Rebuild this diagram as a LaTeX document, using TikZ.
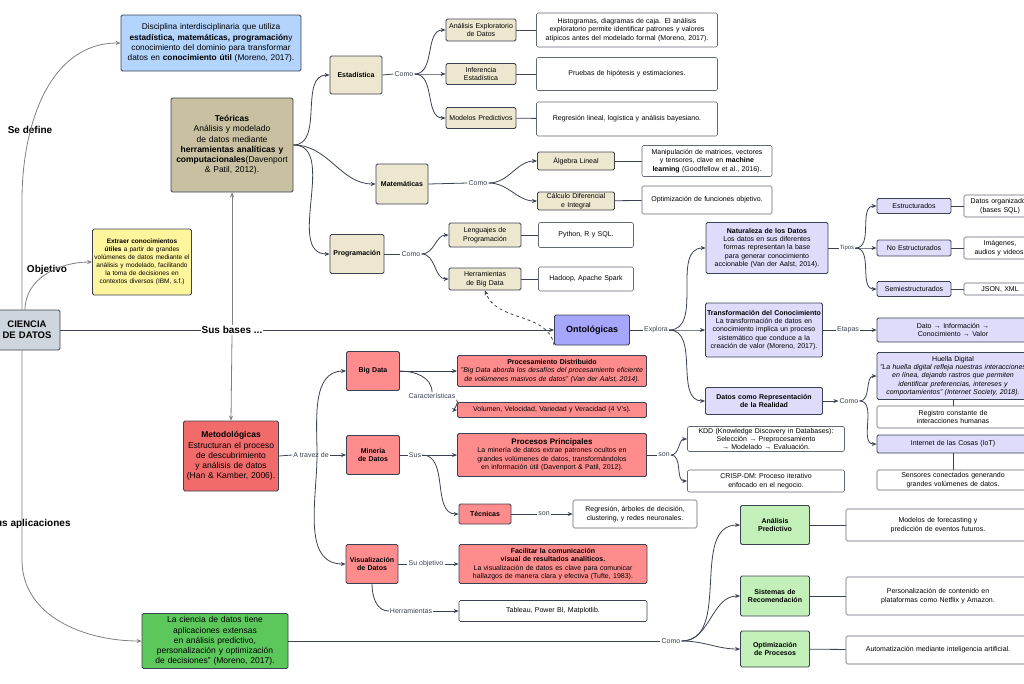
\documentclass[tikz,border=0pt]{standalone}
\usepackage{fontspec}
\setmainfont{Liberation Sans}
\usetikzlibrary{arrows.meta}
\hyphenpenalty=10000 \exhyphenpenalty=10000
\definecolor{cgray}{HTML}{CFD5DC}
\definecolor{cblue}{HTML}{B3D4FC}
\definecolor{cyel}{HTML}{FFF59D}
\definecolor{ctan}{HTML}{C9C0A1}
\definecolor{cred}{HTML}{F26B6B}
\definecolor{cpink}{HTML}{FF8C8C}
\definecolor{cbeige}{HTML}{EDE7D0}
\definecolor{cviol}{HTML}{A6A6FC}
\definecolor{clav}{HTML}{DEDCFA}
\definecolor{cgreen}{HTML}{5CC85C}
\definecolor{clgreen}{HTML}{C2F0B8}
\definecolor{cline}{HTML}{3B4252}
\tikzset{
 bx/.style={draw=cline,line width=0.8pt,rounded corners=1.5pt,align=center,inner sep=1pt,font=\fontsize{7}{8.4}\selectfont},
 wb/.style={bx,fill=white,draw=cline!80,line width=0.6pt},
 lb/.style={fill=white,inner sep=1pt,font=\fontsize{7}{8}\selectfont,text=cline},
 big/.style={fill=white,inner sep=1pt,font=\fontsize{10}{11}\selectfont\bfseries,text=black},
 ar/.style={-{Stealth[length=5pt,width=4pt]},draw=cline,line width=0.8pt},
 ln/.style={draw=cline,line width=0.8pt},
 gl/.style={-{Stealth[length=5pt,width=4pt]},draw=gray,line width=0.8pt},
 sz/.style n args={3}{minimum width=#1pt,minimum height=#2pt,text width=#3pt},
}
\begin{document}
\begin{tikzpicture}[x=1pt,y=-1pt]
\useasboundingbox[fill=white] (0,0) rectangle (1024,683);
% main nodes
\node[bx,fill=cgray,sz={66}{40}{64},font=\fontsize{9.5}{11}\selectfont\bfseries] (cd) at (27,330) {CIENCIA DE DATOS};
\node[bx,fill=cblue,sz={180}{56}{178},font=\fontsize{8.3}{10.2}\selectfont] (def) at (211,43) {Disciplina interdisciplinaria que utiliza \textbf{estadística, matemáticas, programación}y conocimiento del dominio para transformar datos en \textbf{conocimiento útil} (Moreno, 2017).};
\node[bx,fill=cyel,sz={99}{66}{97},font=\fontsize{6.5}{8}\selectfont] (obj) at (142,262) {\textbf{Extraer conocimientos útiles} a partir de grandes volúmenes de datos mediante el análisis y modelado, facilitando la toma de decisiones en contextos diversos (IBM, s.f.)};
\node[bx,fill=ctan,sz={122}{94}{120},font=\fontsize{8.5}{10.2}\selectfont] (teo) at (232,145) {\textbf{Teóricas}\\Análisis y modelado de datos mediante \textbf{herramientas analíticas y computacionales}(Davenport \& Patil, 2012).};
\node[bx,fill=cred,sz={95}{70}{93},font=\fontsize{8.5}{10.2}\selectfont] (met) at (231,456) {\textbf{Metodológicas}\\Estructuran el proceso de descubrimiento y análisis de datos (Han \& Kamber, 2006).};
\node[bx,fill=cgreen,sz={146}{55}{144},font=\fontsize{8.5}{10.2}\selectfont] (apl) at (215,641) {La ciencia de datos tiene aplicaciones extensas en análisis predictivo, personalización y optimización de decisiones" (Moreno, 2017).};
% teoricas branch
\node[bx,fill=cbeige,sz={52}{38}{50}] (est) at (356,75) {\textbf{Estadística}};
\node[bx,fill=cbeige,sz={52}{40}{50}] (mat) at (402,184) {\textbf{Matemáticas}};
\node[bx,fill=cbeige,sz={54}{39}{52}] (prog) at (357,254) {\textbf{Programación}};
\node[bx,fill=cbeige,sz={70}{22}{68}] (aed) at (481,30) {Análisis Exploratorio de Datos};
\node[bx,fill=cbeige,sz={70}{21}{50}] (inf) at (481,74) {Inferencia Estadística};
\node[bx,fill=cbeige,sz={70}{21}{68}] (mp) at (481,118) {Modelos Predictivos};
\node[wb,sz={181}{34}{170}] (t1) at (627,30) {Histogramas, diagramas de caja. El análisis exploratorio permite identificar patrones y valores atípicos antes del modelado formal (Moreno, 2017).};
\node[wb,sz={181}{33}{175}] (t2) at (627,74) {Pruebas de hipótesis y estimaciones.};
\node[wb,sz={181}{34}{175}] (t3) at (627,119) {Regresión lineal, logística y análisis bayesiano.};
\node[bx,fill=cbeige,sz={77}{18}{75}] (al) at (576,161) {Álgebra Lineal};
\node[bx,fill=cbeige,sz={77}{18}{75}] (cdi) at (576,201) {Cálculo Diferencial e Integral};
\node[wb,sz={130}{31}{128}] (t4) at (707,161) {Manipulación de matrices, vectores y tensores, clave en \textbf{machine learning} (Goodfellow et al., 2016).};
\node[wb,sz={130}{28}{126}] (t5) at (707,200) {Optimización de funciones objetivo.};
\node[bx,fill=cbeige,sz={72}{24}{60}] (lp) at (485,235) {Lenguajes de Programación};
\node[bx,fill=cbeige,sz={72}{22}{70}] (hbd) at (485,279) {Herramientas de Big Data};
\node[wb,sz={95}{25}{91}] (t6) at (586,235) {Python, R y SQL.};
\node[wb,sz={95}{24}{91}] (t7) at (586,279) {Hadoop, Apache Spark};
% ontologicas
\node[bx,fill=cviol,sz={75}{30}{73},font=\fontsize{9}{10}\selectfont\bfseries] (ont) at (592,330) {Ontológicas};
\node[bx,fill=clav,sz={122}{51}{120}] (nat) at (767,248) {\textbf{Naturaleza de los Datos}\\Los datos en sus diferentes formas representan la base para generar conocimiento accionable (Van der Aalst, 2014).};
\node[bx,fill=clav,sz={117}{54}{115}] (tra) at (764,330) {\textbf{Transformación del Conocimiento}\\La transformación de datos en conocimiento implica un proceso sistemático que conduce a la creación de valor (Moreno, 2017).};
\node[bx,fill=clav,sz={117}{27}{115}] (drr) at (764,401) {\textbf{Datos como Representación de la Realidad}};
\node[bx,fill=clav,sz={74}{15}{72}] (estr) at (914,206) {Estructurados};
\node[bx,fill=clav,sz={74}{16}{72}] (noes) at (914,248) {No Estructurados};
\node[bx,fill=clav,sz={74}{15}{72}] (semi) at (914,289) {Semiestructurados};
\node[wb,sz={72}{22}{70}] (do) at (1000,206) {Datos organizados (bases SQL)};
\node[wb,sz={72}{22}{70}] (ia) at (1000,248) {Imágenes, audios y videos.};
\node[wb,sz={72}{12}{68}] (js) at (1000,289) {JSON, XML};
\node[bx,fill=clav,sz={152}{24}{140}] (dik) at (953,330) {Dato → Información → Conocimiento → Valor};
\node[bx,fill=clav,sz={152}{47}{150}] (hd) at (953,376) {Huella Digital\\\textit{"La huella digital refleja nuestras interacciones en línea, dejando rastros que permiten identificar preferencias, intereses y comportamientos" (Internet Society, 2018).}};
\node[wb,sz={152}{22}{140}] (reg) at (953,417) {Registro constante de interacciones humanas};
\node[bx,fill=clav,sz={152}{18}{146}] (iot) at (953,444) {Internet de las Cosas (IoT)};
\node[wb,sz={152}{20}{148}] (sens) at (953,480) {Sensores conectados generando grandes volúmenes de datos.};
% metodologicas
\node[bx,fill=cpink,sz={53}{39}{50}] (bd) at (373,371) {\textbf{Big Data}};
\node[bx,fill=cpink,sz={189}{31}{187}] (pd) at (552,371) {\textbf{Procesamiento Distribuido}\\\textit{"Big Data aborda los desafíos del procesamiento eficiente de volúmenes masivos de datos" (Van der Aalst, 2014).}};
\node[bx,fill=cpink,sz={189}{15}{185}] (vv) at (552,410) {Volumen, Velocidad, Variedad y Veracidad (4 V's).};
\node[bx,fill=cpink,sz={53}{39}{50}] (mdd) at (373,455) {\textbf{Minería de Datos}};
\node[bx,fill=cpink,sz={189}{43}{187}] (pp) at (552,455) {\textbf{\fontsize{8}{9}\selectfont Procesos Principales}\\La minería de datos extrae patrones ocultos en grandes volúmenes de datos, transformándolos en información útil (Davenport \& Patil, 2012).};
\node[bx,fill=cpink,sz={52}{20}{50}] (tec) at (485,514) {\textbf{Técnicas}};
\node[wb,sz={124}{28}{120}] (t8) at (635,514) {Regresión, árboles de decisión, clustering, y redes neuronales.};
\node[wb,sz={157}{25}{155}] (kdd) at (766,439) {KDD (Knowledge Discovery in Databases): Selección → Preprocesamiento → Modelado → Evaluación.};
\node[wb,sz={157}{22}{155}] (crisp) at (766,481) {CRISP-DM: Proceso iterativo enfocado en el negocio.};
\node[bx,fill=cpink,sz={52}{39}{50}] (vis) at (372,564) {\textbf{Visualización de Datos}};
\node[bx,fill=cpink,sz={188}{39}{186}] (fac) at (553,564) {\textbf{Facilitar la comunicación visual de resultados analíticos.}\\La visualización de datos es clave para comunicar hallazgos de manera clara y efectiva (Tufte, 1983).};
\node[wb,draw=cline,sz={188}{21}{184}] (tab) at (553,611) {Tableau, Power BI, Matplotlib.};
% aplicaciones
\node[bx,fill=clgreen,sz={69}{39}{60}] (ap) at (775,525) {\textbf{Análisis Predictivo}};
\node[bx,fill=clgreen,sz={69}{40}{66}] (sr) at (775,596) {\textbf{Sistemas de Recomendación}};
\node[bx,fill=clgreen,sz={69}{36}{66}] (op) at (775,649) {\textbf{Optimización de Procesos}};
\node[wb,sz={184}{32}{160}] (t9) at (938,525) {Modelos de forecasting y predicción de eventos futuros.};
\node[wb,sz={184}{38}{176}] (t10) at (938,596) {Personalización de contenido en plataformas como Netflix y Amazon.};
\node[wb,sz={184}{28}{176}] (t11) at (938,650) {Automatización mediante inteligencia artificial.};

% connectors from centre
\node[big] (sb) at (232,330) {Sus bases ...};
\draw[ln] (cd.east) -- (sb.west);
\draw[ar] (sb.east) -- (ont.west);
\draw[gl] (sb.north) -- (teo.south);
\draw[gl] (sb.south) -- (met.north);
\coordinate (c1) at (22,310);
\node[big,fill=none] (sd) at (30,130) {Se define};
\draw[gl] (c1) -- (22,200) to[out=90,in=180] (def.west);
\coordinate (c2) at (25,310);
\node[big] (ob) at (47,270) {Objetivo};
\draw[gl] (c2) to[out=90,in=180] (obj.west);
\coordinate (c3) at (22,350);
\node[big,fill=none] (sa) at (30,524) {Sus aplicaciones};
\draw[gl] (c3) -- (22,560) to[out=-90,in=180] (apl.west);
% aplicaciones
\node[lb] (como5) at (671,641) {Como};
\draw[ln] (apl.east) -- (como5.west);
\foreach \t in {ap,sr,op} \draw[ar] (como5.east) to[out=0,in=180] (\t.west);
\draw[ln] (ap) -- (t9); \draw[ln] (sr) -- (t10); \draw[ln] (op) -- (t11);
% teoricas
\foreach \t in {est,mat,prog} \draw[ar] (teo.east) to[out=0,in=180] (\t.west);
\node[lb] (como1) at (404,74) {Como};
\draw[ln] (est.east) -- (como1.west);
\foreach \t in {aed,inf,mp} \draw[ar] (como1.east) to[out=0,in=180] (\t.west);
\draw[ln] (aed) -- (t1); \draw[ln] (inf) -- (t2); \draw[ln] (mp) -- (t3);
\node[lb] (como2) at (478,183) {Como};
\draw[ln] (mat.east) -- (como2.west);
\foreach \t in {al,cdi} \draw[ar] (como2.east) to[out=0,in=180] (\t.west);
\draw[ln] (al) -- (t4); \draw[ln] (cdi) -- (t5);
\node[lb] (como3) at (411,254) {Como};
\draw[ln] (prog.east) -- (como3.west);
\foreach \t in {lp,hbd} \draw[ar] (como3.east) to[out=0,in=180] (\t.west);
\draw[ln] (lp) -- (t6); \draw[ln] (hbd) -- (t7);
% ontologicas
\node[lb] (expl) at (656,330) {Explora};
\draw[ln] (ont.east) -- (expl.west);
\foreach \t in {nat,tra,drr} \draw[ar] (expl.east) to[out=0,in=180] (\t.west);
\node[lb,font=\fontsize{6}{7}\selectfont] (tipos) at (847,248) {Tipos};
\draw[ln] (nat.east) -- (tipos.west);
\foreach \t in {estr,noes,semi} \draw[ar] (tipos.east) to[out=0,in=180] (\t.west);
\draw[ln] (estr) -- (do); \draw[ln] (noes) -- (ia); \draw[ln] (semi) -- (js);
\node[lb] (etapas) at (848,330) {Etapas};
\draw[ln] (tra.east) -- (etapas.west);
\draw[ar] (etapas.east) -- (dik.west);
\node[lb] (como4) at (849,401) {Como};
\draw[ar] (drr.east) -- (como4.west);
\foreach \t in {hd,iot} \draw[ar] (como4.east) to[out=0,in=180] (\t.west);
\draw[ln] (hd) -- (reg); \draw[ln] (iot) -- (sens);
\draw[ar,dashed] (ont.south west) to[out=100,in=-70] (hbd.south);
% metodologicas
\node[lb] (atr) at (311,455) {A travez de};
\draw[ln] (met.east) -- (atr.west);
\draw[ar] (atr.east) -- (mdd.west);
\coordinate (jv) at (317,455);
\draw[ar] (jv) to[out=90,in=180] (bd.west);
\draw[ar] (jv) to[out=-90,in=180] (vis.west);
\draw[ar] (bd.east) -- (pd.west);
\node[lb] (car) at (432,396) {Características};
\draw[ln] (bd.east) to[out=0,in=90] (car.north);
\draw[ar] (car.south east) to[out=-30,in=180] (vv.west);
\node[lb] (sus) at (415,455) {Sus};
\draw[ln] (mdd.east) -- (sus.west);
\draw[ar] (sus.east) -- (pp.west);
\draw[ar] (sus.east) to[out=0,in=180] (tec.west);
\node[lb] (son1) at (664,455) {son};
\draw[ln] (pp.east) -- (son1.west);
\foreach \t in {kdd,crisp} \draw[ar] (son1.east) to[out=0,in=180] (\t.west);
\node[lb] (son2) at (544,514) {son};
\draw[ln] (tec.east) -- (son2.west);
\draw[ar] (son2.east) -- (t8.west);
\node[lb] (suo) at (426,564) {Su objetivo};
\draw[ln] (vis.east) -- (suo.west);
\draw[ar] (suo.east) -- (fac.west);
\node[lb] (herr) at (411,611) {Herramientas};
\draw[ln] (vis.south) to[out=-90,in=180] (herr.west);
\draw[ar] (herr.east) -- (tab.west);
\end{tikzpicture}
\end{document}
